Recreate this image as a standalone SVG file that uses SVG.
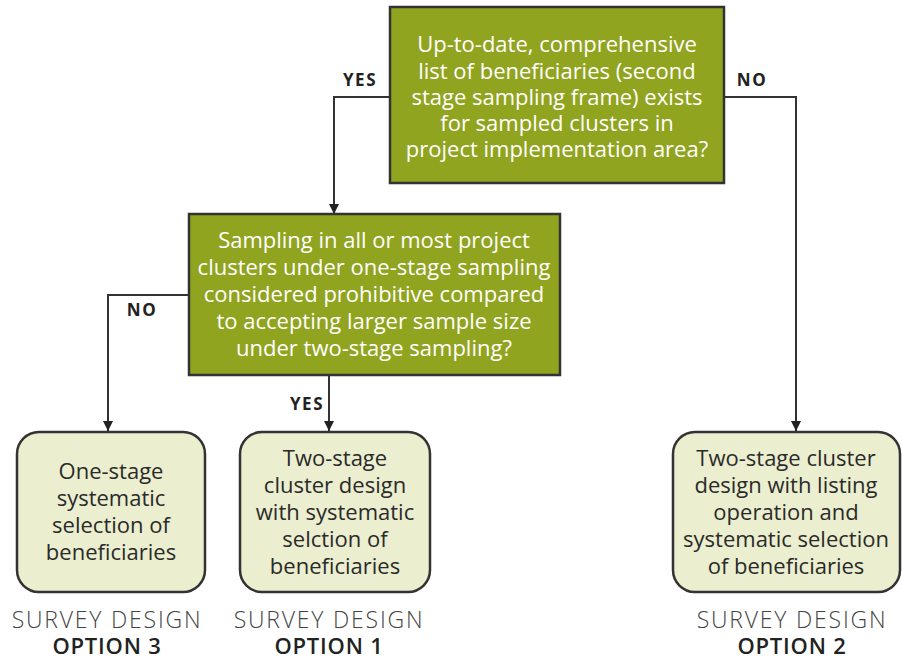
<svg xmlns="http://www.w3.org/2000/svg" width="902" height="660" viewBox="0 0 902 660">
<defs>
<style>
.q{fill:#91a41f;stroke:#333;stroke-width:2.5}
.r{fill:#ebeecf;stroke:#333;stroke-width:2.5}
.qt{font-family:"Open Sans","Liberation Sans",sans-serif;font-size:22px;fill:#fff;text-anchor:middle}
.rt{font-family:"Open Sans","Liberation Sans",sans-serif;font-size:22px;fill:#2a2a2a;text-anchor:middle}
.lab{font-family:"Open Sans","Liberation Sans",sans-serif;font-size:17px;font-weight:bold;fill:#222;letter-spacing:1.5px;text-anchor:middle}
.sd{font-family:"Open Sans","Liberation Sans",sans-serif;font-size:23px;font-weight:300;fill:#444;text-anchor:middle;letter-spacing:1.8px}
.op{font-family:"Open Sans","Liberation Sans",sans-serif;font-size:22px;font-weight:600;fill:#222;text-anchor:middle;letter-spacing:0.8px}
.ln{fill:none;stroke:#333;stroke-width:2}
</style>
<marker id="ah" viewBox="0 0 10 10" refX="10" refY="5" markerWidth="10" markerHeight="11" markerUnits="userSpaceOnUse" orient="auto">
<path d="M0,0 L10,5 L0,10 Z" fill="#222"/>
</marker>
</defs>
<rect width="902" height="660" fill="#fff"/>
<g id="connectors">
<path class="ln" d="M390,97 H334 V214" marker-end="url(#ah)"/>
<path class="ln" d="M724,97 H796 V431" marker-end="url(#ah)"/>
<path class="ln" d="M189,295 H108 V431" marker-end="url(#ah)"/>
<path class="ln" d="M329,375 V431" marker-end="url(#ah)"/>
<text class="lab" x="360" y="86">YES</text>
<text class="lab" x="752" y="86">NO</text>
<text class="lab" x="142" y="316">NO</text>
<text class="lab" x="307" y="410">YES</text>
</g>
<g id="q1">
<rect class="q" x="390" y="7" width="334" height="176"/>
<text class="qt" x="557" y="52">Up-to-date, comprehensive</text>
<text class="qt" x="557" y="78.5">list of beneficiaries (second</text>
<text class="qt" x="557" y="105">stage sampling frame) exists</text>
<text class="qt" x="557" y="131">for sampled clusters in</text>
<text class="qt" x="557" y="157">project implementation area?</text>
</g>
<g id="q2">
<rect class="q" x="189" y="214" width="371" height="161"/>
<text class="qt" x="374" y="248">Sampling in all or most project</text>
<text class="qt" x="374" y="275">clusters under one-stage sampling</text>
<text class="qt" x="374" y="302">considered prohibitive compared</text>
<text class="qt" x="374" y="329">to accepting larger sample size</text>
<text class="qt" x="374" y="356">under two-stage sampling?</text>
</g>
<g id="opt3">
<rect class="r" x="17" y="432" width="188" height="160" rx="22"/>
<text class="rt" x="111" y="479">One-stage</text>
<text class="rt" x="111" y="506">systematic</text>
<text class="rt" x="111" y="533">selection of</text>
<text class="rt" x="111" y="560">beneficiaries</text>
<text class="sd" x="107" y="628">SURVEY DESIGN</text>
<text class="op" x="107" y="654">OPTION 3</text>
</g>
<g id="opt1">
<rect class="r" x="240" y="432" width="190" height="160" rx="22"/>
<text class="rt" x="335" y="466">Two-stage</text>
<text class="rt" x="335" y="493">cluster design</text>
<text class="rt" x="335" y="520">with systematic</text>
<text class="rt" x="335" y="547">selction of</text>
<text class="rt" x="335" y="574">beneficiaries</text>
<text class="sd" x="329" y="628">SURVEY DESIGN</text>
<text class="op" x="329" y="654">OPTION 1</text>
</g>
<g id="opt2">
<rect class="r" x="673" y="432" width="227" height="160" rx="22"/>
<text class="rt" x="786" y="466">Two-stage cluster</text>
<text class="rt" x="786" y="493">design with listing</text>
<text class="rt" x="786" y="520">operation and</text>
<text class="rt" x="786" y="547">systematic selection</text>
<text class="rt" x="786" y="574">of beneficiaries</text>
<text class="sd" x="792" y="628">SURVEY DESIGN</text>
<text class="op" x="792" y="654">OPTION 2</text>
</g>
</svg>
